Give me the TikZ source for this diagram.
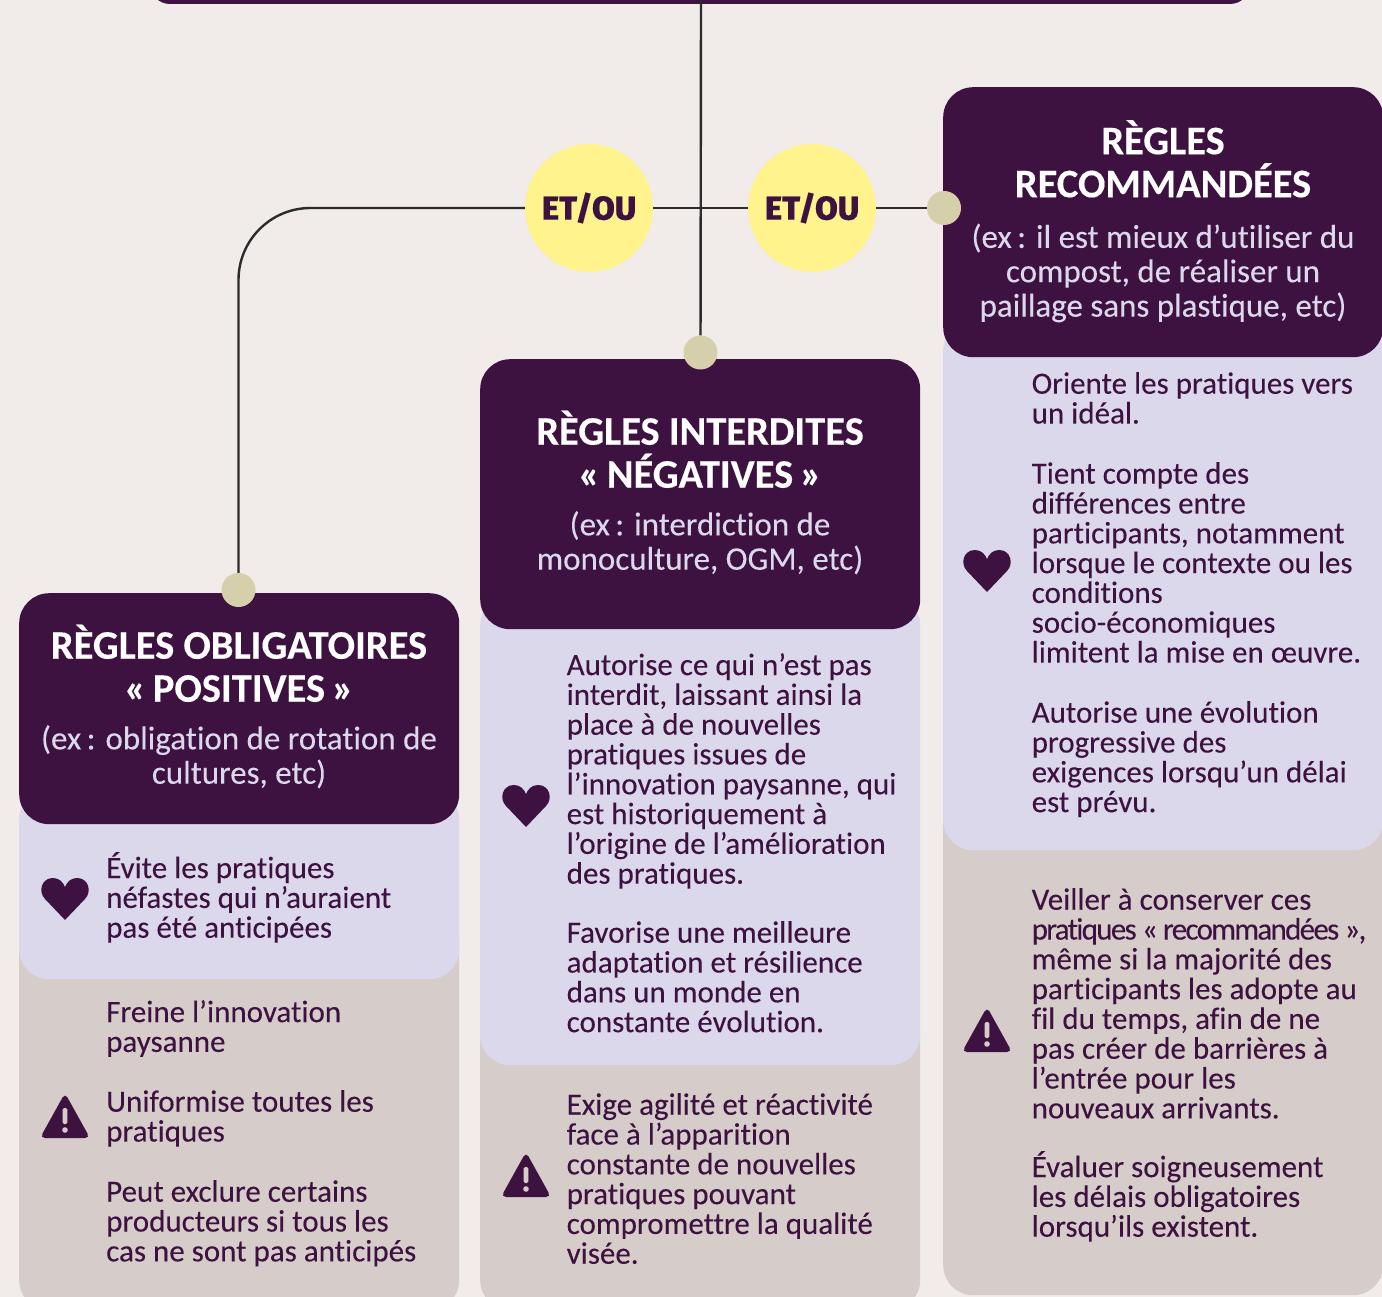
\documentclass[tikz,border=0pt]{standalone}
\usepackage{fontspec}
\setmainfont{Carlito}[Ligatures=NoCommon]
\newfontfamily\bodyfont{Carlito}[Ligatures=NoCommon,FakeBold=0.12]
\newfontfamily\titlefont{Carlito Bold}[Ligatures=NoCommon,FakeBold=0.25]
\newfontfamily\heavyfont{Fira Sans ExtraBold}[FakeBold=0.5]
\definecolor{plum}{HTML}{3E1240}
\definecolor{lilac}{HTML}{DCD8EC}
\definecolor{taupe}{HTML}{D6CDCB}
\definecolor{paper}{HTML}{F1ECE9}
\definecolor{lemon}{HTML}{FFF38E}
\definecolor{sand}{HTML}{D6CFAB}
\definecolor{wire}{HTML}{2B2B2B}

\begin{document}
\begin{tikzpicture}[x=1pt,y=-1pt,
    panel/.style ={rectangle, anchor=north west, inner sep=0pt, minimum width=440pt, rounded corners=30pt},
    header/.style ={panel, fill=plum},
    pros/.style ={panel, fill=lilac},
    cons/.style ={panel, fill=taupe},
    body/.style ={anchor=north west, inner sep=0pt, align=left, text=plum,
       font=\fontsize{31}{29.8}\bodyfont, execute at begin node={\rule{0pt}{30pt}}},
    headtitle/.style ={anchor=north, inner sep=0pt, align=center, text=white,
       font=\fontsize{40.5}{43}\titlefont, execute at begin node={\rule{0pt}{32pt}}},
    headsub/.style ={anchor=north, inner sep=0pt, align=center, text=lilac,
       font=\fontsize{33}{34.4}\bodyfont, execute at begin node={\rule{0pt}{28pt}}},
    logic/.style ={circle, fill=lemon, inner sep=0pt, minimum size=128pt, text=plum,
       font=\fontsize{33}{33}\heavyfont},
    joint/.style ={circle, fill=sand, inner sep=0pt, minimum size=34pt},
    link/.style ={draw=wire, line width=2.4pt},
    heartpic/.pic ={\fill[plum] (0,22) -- (-20,1) .. controls (-27,-6) and (-24,-20) .. (-12,-20)
       .. controls (-6,-20) and (-2,-16) .. (0,-11) .. controls (2,-16) and (6,-20) .. (12,-20)
       .. controls (24,-20) and (27,-6) .. (20,1) -- cycle;},
    warnpic/.pic ={\fill[plum, rounded corners=5pt] (0,-25) -- (25,20) -- (-25,20) -- cycle;
       \fill[taupe, rounded corners=1.5pt] (-2.4,-10) rectangle (2.4,6);
       \fill[taupe] (0,12) circle (2.8);}]

   \useasboundingbox (0,0) rectangle (1382,1297);
   \clip (0,0) rectangle (1382,1297);
   \fill[paper] (0,0) rectangle (1382,1297);
   \fill[plum, rounded corners=20pt] (150,-40) rectangle (1250,4);

   \node[cons,minimum height=400pt] (consA) at (19,910) {};
   \node[pros,minimum height=190pt] (prosA) at (19,789) {};
   \node[header,minimum height=231pt] (headA) at (19,593) {};
   \node[cons,minimum height=300pt] (consB) at (480,1010) {};
   \node[pros,minimum height=470pt] (prosB) at (480,595) {};
   \node[header,minimum height=270pt] (headB) at (480,359) {};
   \node[cons,minimum height=500pt] (consC) at (943,795) {};
   \node[pros,minimum height=530pt] (prosC) at (943,320) {};
   \node[header,minimum height=270pt] (headC) at (943,87) {};

   \coordinate (top) at (701,0);
   \node[joint] (jointA) at (238.5,590) {};
   \node[joint] (jointB) at (700.5,352.5) {};
   \node[joint] (jointC) at (944,208) {};
   \node[logic] (orA) at (589,208) {ET/OU};
   \node[logic] (orB) at (812,208) {ET/OU};

   \draw[link] (top) to (jointB);
   \draw[link,rounded corners=72pt] (jointA) |- (orA);
   \draw[link] (orA) to (orB);
   \draw[link] (orB) to (jointC);

   \node[headtitle] (titleA) at (239,624.5) {RÈGLES OBLIGATOIRES\\«\,POSITIVES\,»};
   \node[headsub] (subA) at (239,725) {(ex\,: obligation de rotation de\\cultures, etc)};
   \node[headtitle] (titleB) at (700,410.5) {RÈGLES INTERDITES\\«\,NÉGATIVES\,»};
   \node[headsub] (subB) at (700,511) {(ex\,: interdiction de\\monoculture, OGM, etc)};
   \node[headtitle] (titleC) at (1163,120) {RÈGLES\\RECOMMANDÉES};
   \node[headsub] (subC) at (1163,223.5) {(ex\,: il est mieux d’utiliser du\\compost, de réaliser un\\paillage sans plastique, etc)};

   \node[body] (textA) at (106,852) {Évite les pratiques\\néfastes qui n’auraient\\pas été anticipées};
   \node[body] (textB) at (106,1000) {Freine l’innovation\\paysanne};
   \node[body] (textC) at (106,1090) {Uniformise toutes les\\pratiques};
   \node[body] (textD) at (106,1180) {Peut exclure certains\\producteurs si tous les\\cas ne sont pas anticipés};

   \node[body] (textE) at (566.5,653) {Autorise ce qui n’est pas\\interdit, laissant ainsi la\\place à de nouvelles\\pratiques issues de\\l’innovation paysanne, qui\\est historiquement à\\l’origine de l’amélioration\\des pratiques.};
   \node[body] (textF) at (566.5,921) {Favorise une meilleure\\adaptation et résilience\\dans un monde en\\constante évolution.};
   \node[body] (textG) at (566.5,1093) {Exige agilité et réactivité\\face à l’apparition\\constante de nouvelles\\pratiques pouvant\\compromettre la qualité\\visée.};

   \node[body] (textH) at (1031.5,372) {Oriente les pratiques vers\\un idéal.};
   \node[body] (textI) at (1031.5,462) {Tient compte des\\différences entre\\participants, notamment\\lorsque le contexte ou les\\conditions\\socio-économiques\\limitent la mise en œuvre.};
   \node[body] (textJ) at (1031.5,701) {Autorise une évolution\\progressive des\\exigences lorsqu’un délai\\est prévu.};
   \node[body] (textK) at (1031.5,888) {Veiller à conserver ces\\{\addfontfeature{LetterSpace=-5.5}pratiques «\,recommandées\,»,}\\même si la majorité des\\participants les adopte au\\fil du temps, afin de ne\\pas créer de barrières à\\l’entrée pour les\\nouveaux arrivants.};
   \node[body] (textL) at (1031.5,1151) {Évaluer soigneusement\\les délais obligatoires\\lorsqu’ils existent.};

   \pic at (65,898) {heartpic};
   \pic at (526,805) {heartpic};
   \pic at (987,570) {heartpic};
   \pic at (65,1118) {warnpic};
   \pic at (526,1177) {warnpic};
   \pic at (987,1032) {warnpic};
\end{tikzpicture}
\end{document}
